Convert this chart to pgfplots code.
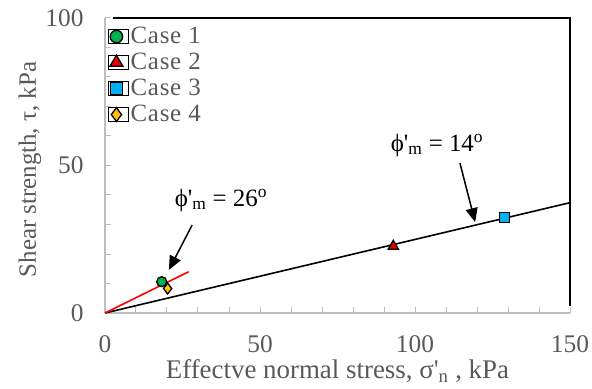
\documentclass[border=0pt]{standalone}
\usepackage{pgfplots}
\pgfplotsset{compat=1.18}
\usetikzlibrary{arrows.meta}
\usepackage{fontspec}
\setmainfont{Liberation Serif}
\definecolor{txtgray}{RGB}{89,89,89}
\definecolor{axgray}{RGB}{190,190,190}
\definecolor{caseA}{RGB}{0,176,80}
\definecolor{caseB}{RGB}{232,0,0}
\definecolor{caseC}{RGB}{0,176,240}
\definecolor{caseD}{RGB}{255,192,0}
\newcommand{\tickfont}{\fontsize{25.5}{30}\selectfont}
\newcommand{\labfont}{\fontsize{27}{32}\selectfont}
\newcommand{\ylabfont}{\fontsize{25}{30}\selectfont}
\newcommand{\legfont}{\fontsize{25}{30}\selectfont\addfontfeatures{LetterSpace=3}}
\newcommand{\notefont}{\fontsize{25}{30}\selectfont}
\newcommand{\pr}{\textquotesingle}
\begin{document}
\begin{tikzpicture}
\begin{axis}[
  name=ax,
  scale only axis, width=465bp, height=295bp,
  xmin=0, xmax=150, ymin=0, ymax=100,
  axis lines*=left,
  axis line style={axgray, line width=1.5bp},
  xtick={0,50,100,150}, ytick={0,50,100},
  minor xtick={10,20,...,140}, minor ytick={10,20,...,90},
  tick style={axgray, line width=1bp},
  major tick length=6bp, minor tick length=6bp,
  tick align=inside,
  ticklabel style={font=\tickfont, text=txtgray},
  xticklabel style={yshift=-19bp},
  yticklabel style={xshift=-18bp},
  /pgf/number format/assume math mode=true,
  xlabel={Effectve normal stress, σ\pr\textsubscript{n} , kPa},
  ylabel={Shear strength, τ, kPa},
  xlabel style={font=\labfont, text=txtgray, at={(axis description cs:0.5,0)},
    anchor=center, yshift=-58bp},
  ylabel style={font=\ylabfont, text=txtgray, at={(axis description cs:0,0.5)},
    anchor=center, yshift=75bp, xshift=-4bp},
  clip=false,
  legend style={draw=none, fill=none, at={(rel axis cs:0.0065,0.98)}, anchor=north west,
    font=\legfont, text=txtgray, row sep=1bp, inner sep=0bp,
    nodes={inner xsep=2bp, inner ysep=1bp, text height=18bp, text depth=5bp}},
  legend image code/.code={\path (-8bp,-7bp) rectangle (12bp,7bp);
    \draw[#1, /tikz/every mark/.append style={scale=1.25}] plot coordinates {(0bp,0bp)};},
  legend cell align=left,
]
% failure envelopes
\addplot[black, line width=1.6bp, forget plot] coordinates {(0,0) (150,37.4)};
\addplot[red, line width=1.6bp, forget plot] coordinates {(0,0) (27,14)};
% test points
\addplot[only marks, mark=*, mark size=5bp, mark options={fill=caseA, draw=black, line width=1.3bp}]
  coordinates {(18.3,10.6)};
\addlegendentry{Case 1}
\addplot[only marks, mark=triangle*, mark size=6bp, mark options={fill=caseB, draw=black, line width=1.3bp}]
  coordinates {(93,22.6)};
\addlegendentry{Case 2}
\addplot[only marks, mark=square*, mark size=5bp, mark options={fill=caseC, draw=black, line width=1.3bp}]
  coordinates {(128.8,32.4)};
\addlegendentry{Case 3}
\addplot[only marks, mark=diamond*, mark size=5.5bp, mark options={fill=caseD, draw=black, line width=1.3bp}]
  coordinates {(20.2,8.3)};
\addlegendentry{Case 4}
% frame on top and right
\draw[black, line width=1.5bp] (axis cs:2.5,100) -- (axis cs:150,100) -- (axis cs:150,2.5);
% annotations
\node[font=\notefont] at (axis cs:37.4,38.3) {ϕ\pr\textsubscript{m} = 26\textsuperscript{o}};
\draw[line width=1.5bp, -{Triangle[length=14bp,width=12bp]}] (axis cs:28.1,29.8) -- (axis cs:20.6,14.6);
\node[font=\notefont] at (axis cs:107.1,56.9) {ϕ\pr\textsubscript{m} = 14\textsuperscript{o}};
\draw[line width=1.5bp, -{Triangle[length=14bp,width=12bp]}] (axis cs:114.5,50.8) -- (axis cs:119.4,30.8);
\end{axis}
\pgfresetboundingbox
\path ([xshift=-105bp,yshift=-76bp]ax.south west) rectangle ([xshift=22bp,yshift=18bp]ax.north east);
\end{tikzpicture}
\end{document}
